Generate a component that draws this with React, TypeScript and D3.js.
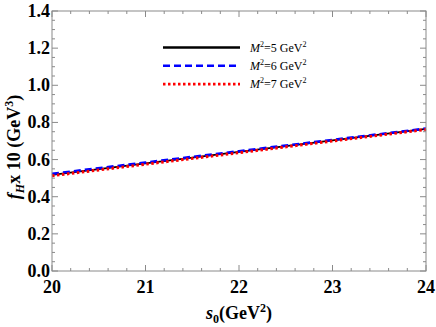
import * as d3 from "d3";

// s0 grid (GeV^2)
const s0 = [20, 21, 22, 23, 24];
// f_H x 10 (GeV^3) for each Borel mass
const fM5 = [0.518, 0.579, 0.641, 0.703, 0.765];
const fM6 = [0.523, 0.584, 0.645, 0.706, 0.767];
const fM7 = [0.513, 0.575, 0.637, 0.7, 0.762];

const xTicks = [20, 21, 22, 23, 24];
const yTicks = [0, 0.2, 0.4, 0.6, 0.8, 1.0, 1.2, 1.4];

const series = [
  { m: "5", vals: fM5, color: "#000", dash: "none", w: 1.8, lw: 2.6 },
  { m: "6", vals: fM6, color: "#0000ff", dash: "7,4", w: 2.6, lw: 2.6 },
  { m: "7", vals: fM7, color: "#ff0000", dash: "2.5,2.5", w: 3, lw: 2.6 },
];

const W = 436;
const H = 327;
const margin = { top: 11, right: 10, bottom: 56, left: 52 };
const serif = "'Times New Roman', 'Liberation Serif', Times, serif";

const App = () => {
  const x = d3.scaleLinear().domain([20, 24]).range([margin.left, W - margin.right]);
  const y = d3.scaleLinear().domain([0, 1.4]).range([H - margin.bottom, margin.top]);
  const line = d3
    .line<number>()
    .x((_, i) => x(s0[i]))
    .y((d) => y(d));

  const xMinor = d3.range(20, 24.001, 0.2);
  const yMinor = d3.range(0, 1.4001, 0.05);
  const frame = "#8a8a8a";
  const x0 = x.range()[0], x1 = x.range()[1];
  const y0 = y.range()[0], y1 = y.range()[1];
  const bold = { fontFamily: serif, fontWeight: "bold" as const, fontSize: 18 };

  return (
    <svg width={W} height={H} style={{ position: "absolute", left: 0, top: 0, background: "#fff" }}>
      {/* curves */}
      {series.map((s) => (
        <path
          key={s.m}
          d={line(s.vals) || ""}
          fill="none"
          stroke={s.color}
          strokeWidth={s.w}
          strokeDasharray={s.dash}
        />
      ))}

      {/* frame */}
      <rect x={x0} y={y1} width={x1 - x0} height={y0 - y1} fill="none" stroke={frame} strokeWidth={1} />

      {/* x ticks bottom + top */}
      {xMinor.map((v, i) => {
        const major = Math.abs(v - Math.round(v)) < 1e-6;
        const len = major ? 6 : 3;
        return (
          <g key={"xt" + i} stroke={frame}>
            <line x1={x(v)} x2={x(v)} y1={y0} y2={y0 - len} />
            <line x1={x(v)} x2={x(v)} y1={y1} y2={y1 + len} />
          </g>
        );
      })}
      {yMinor.map((v, i) => {
        const major = i % 4 === 0;
        const len = major ? 6 : 3;
        return (
          <g key={"yt" + i} stroke={frame}>
            <line x1={x0} x2={x0 + len} y1={y(v)} y2={y(v)} />
            <line x1={x1} x2={x1 - len} y1={y(v)} y2={y(v)} />
          </g>
        );
      })}

      {/* tick labels */}
      {xTicks.map((v) => (
        <text key={"xl" + v} x={x(v)} y={y0 + 22} textAnchor="middle" style={bold}>
          {v}
        </text>
      ))}
      {yTicks.map((v) => (
        <text key={"yl" + v} x={x0 - 2} y={y(v) + 6} textAnchor="end" style={bold}>
          {v.toFixed(1)}
        </text>
      ))}

      {/* axis titles */}
      <text x={(x0 + x1) / 2} y={H - 8} textAnchor="middle" style={bold}>
        <tspan fontStyle="italic">s</tspan>
        <tspan fontSize={12} dy={4}>0</tspan>
        <tspan dy={-4}>(GeV</tspan>
        <tspan fontSize={12} dy={-7}>2</tspan>
        <tspan dy={7}>)</tspan>
      </text>
      <text
        transform={`translate(20,${(y0 + y1) / 2 + 6}) rotate(-90)`}
        textAnchor="middle"
        style={bold}
      >
        <tspan fontStyle="italic">f</tspan>
        <tspan fontStyle="italic" fontSize={12} dy={4}>H</tspan>
        <tspan dy={-4}>x 10 (GeV</tspan>
        <tspan fontSize={12} dy={-7}>3</tspan>
        <tspan dy={7}>)</tspan>
      </text>

      {/* legend */}
      {series.map((s, i) => {
        const ly = 47.5 + i * 18.3;
        return (
          <g key={"lg" + s.m}>
            <line
              x1={163}
              x2={240}
              y1={ly}
              y2={ly}
              stroke={s.color}
              strokeWidth={s.lw}
              strokeDasharray={s.dash}
            />
            <text x={250} y={ly + 4} style={{ fontFamily: serif, fontSize: 12 }}>
              <tspan fontStyle="italic">M</tspan>
              <tspan fontSize={8} dy={-5}>2</tspan>
              <tspan dy={5}>{`=${s.m} GeV`}</tspan>
              <tspan fontSize={8} dy={-5}>2</tspan>
            </text>
          </g>
        );
      })}
    </svg>
  );
};

export default App;
